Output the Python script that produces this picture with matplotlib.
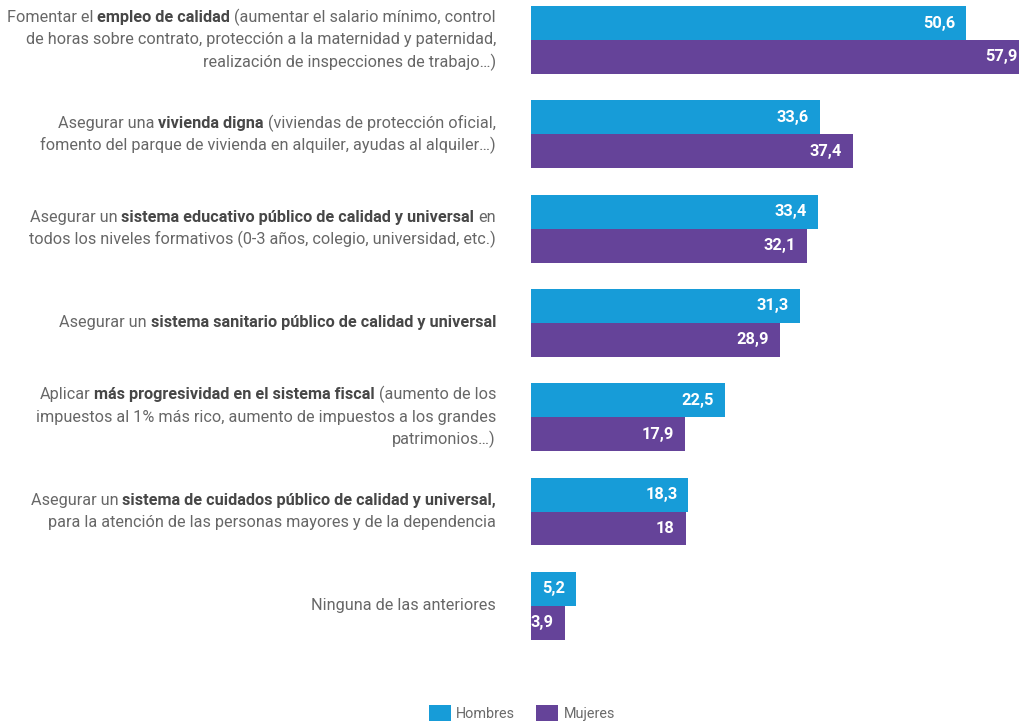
import matplotlib
matplotlib.use("Agg")
import matplotlib.pyplot as plt
from matplotlib.patches import Patch
from matplotlib.transforms import blended_transform_factory

plt.rcParams['font.family'] = ['Roboto', 'DejaVu Sans']

# Category descriptions: each category is a list of lines, each line a list of
# (text, is_bold) segments.
categories = [
    [[("Fomentar el ", False), ("empleo de calidad", True), (" (aumentar el salario mínimo, control", False)],
     [("de horas sobre contrato, protección a la maternidad y paternidad,", False)],
     [("realización de inspecciones de trabajo…)", False)]],
    [[("Asegurar una ", False), ("vivienda digna", True), (" (viviendas de protección oficial,", False)],
     [("fomento del parque de vivienda en alquiler, ayudas al alquiler…)", False)]],
    [[("Asegurar un ", False), ("sistema educativo público de calidad y universal", True), (" en", False)],
     [("todos los niveles formativos (0-3 años, colegio, universidad, etc.)", False)]],
    [[("Asegurar un ", False), ("sistema sanitario público de calidad y universal", True)]],
    [[("Aplicar ", False), ("más progresividad en el sistema fiscal", True), (" (aumento de los", False)],
     [("impuestos al 1% más rico, aumento de impuestos a los grandes", False)],
     [("patrimonios…)", False)]],
    [[("Asegurar un ", False), ("sistema de cuidados público de calidad y universal,", True)],
     [("para la atención de las personas mayores y de la dependencia", False)]],
    [[("Ninguna de las anteriores", False)]],
]

hombres = [50.6, 33.6, 33.4, 31.3, 22.5, 18.3, 5.2]
mujeres = [57.9, 37.4, 32.1, 28.9, 17.9, 18.0, 3.9]
series_names = ["Hombres", "Mujeres"]

COLOR_H = "#179cd8"
COLOR_M = "#654399"
TEXT_REG = "#676767"
TEXT_BOLD = "#474747"

W, H = 1020, 724
fig = plt.figure(figsize=(W / 100, H / 100), dpi=100)

ax_left = 531 / W
ax = fig.add_axes([ax_left, 0, 1 - ax_left, 1])
ax.set_xlim(0, 56.86)
ax.set_ylim(7.253, -0.424)
ax.axis('off')

bar_h = 0.36
ys = list(range(len(hombres)))


def fmt(v):
    return f"{v:g}".replace('.', ',')


for vals, off, col in ((hombres, -bar_h / 2, COLOR_H), (mujeres, bar_h / 2, COLOR_M)):
    pos = [y + off for y in ys]
    ax.barh(pos, vals, height=bar_h, color=col, clip_on=True)
    for p, v in zip(pos, vals):
        ax.annotate(fmt(v), xy=(v, p), xytext=(-11, 0), textcoords='offset pixels',
                    ha='right', va='center', color='white', fontsize=11.8,
                    fontweight='bold', annotation_clip=False)

# Rich-text category labels, right aligned to the left of the bars
renderer = fig.canvas.get_renderer()
FS = 11.7
line_step = 22.5 / 94.33  # line spacing in data units
label_trans = blended_transform_factory(fig.transFigure, ax.transData)
x_right_px = 496.0


def text_width(s, bold):
    t = fig.text(0, 0, s, fontsize=FS, fontweight='bold' if bold else 'normal')
    w = t.get_window_extent(renderer).width
    t.remove()
    return w


space_w = {b: text_width("a a", b) - text_width("aa", b) for b in (False, True)}

for i, lines in enumerate(categories):
    n = len(lines)
    for j, segs in enumerate(lines):
        y = i + (j - (n - 1) / 2) * line_step
        x = x_right_px
        for s, bold in reversed(segs):
            trail = len(s) - len(s.rstrip(' '))
            lead = len(s) - len(s.lstrip(' '))
            core = s.strip(' ')
            x -= trail * space_w[bold]
            ax.text(x / W, y, core, transform=label_trans, ha='right', va='center',
                    fontsize=FS, fontweight='bold' if bold else 'normal',
                    color=TEXT_BOLD if bold else TEXT_REG)
            x -= text_width(core, bold) + lead * space_w[bold]

handles = [Patch(facecolor=COLOR_H), Patch(facecolor=COLOR_M)]
fig.legend(handles, series_names, loc='center', bbox_to_anchor=(522 / W, 1 - 713 / H),
           ncol=2, frameon=False, fontsize=10.4, labelcolor='#6a6a6a',
           handlelength=1.5, handleheight=1.35, handletextpad=0.4,
           columnspacing=1.45, borderpad=0)

fig.savefig("out.png", dpi=100)
